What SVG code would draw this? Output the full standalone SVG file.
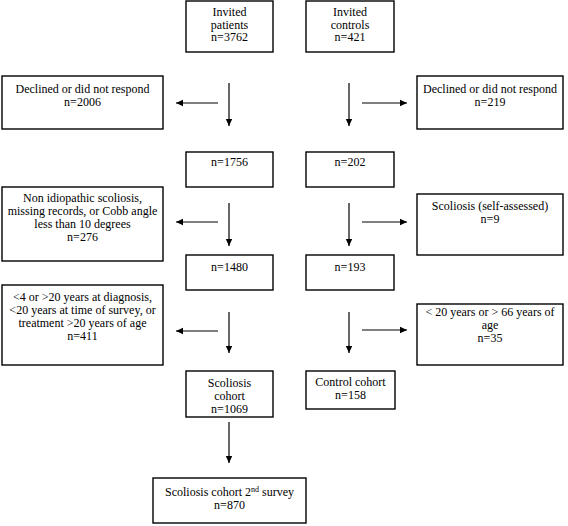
<svg xmlns="http://www.w3.org/2000/svg" width="568" height="526" viewBox="0 0 568 526">
<defs>
<marker id="ah" markerUnits="userSpaceOnUse" markerWidth="8" markerHeight="8" viewBox="0 0 8 8" refX="7" refY="4" orient="auto">
<path d="M0,0.8 L7,4 L0,7.2 Z" fill="#000"/>
</marker>
<style>
rect{fill:#fff;stroke:#000;stroke-width:1.4}
text{font-family:"Liberation Serif","Times New Roman",serif;font-size:12px;fill:#000;text-anchor:middle}
.c line{stroke:#000;stroke-width:1.2;marker-end:url(#ah)}
</style>
</defs>
<rect x="0" y="0" width="568" height="526" style="fill:#fff;stroke:none"/>
<g id="invited-patients"><rect x="186" y="1" width="87" height="51"/><text x="229.5" y="16">Invited</text><text x="229.5" y="28.5">patients</text><text x="229.5" y="41">n=3762</text></g>
<g id="invited-controls"><rect x="306" y="1" width="88" height="51"/><text x="350" y="16">Invited</text><text x="350" y="28.5">controls</text><text x="350" y="41">n=421</text></g>
<g id="declined-patients"><rect x="2" y="76" width="161" height="53"/><text x="82.5" y="93">Declined or did not respond</text><text x="82.5" y="106">n=2006</text></g>
<g id="declined-controls"><rect x="417" y="76" width="146" height="53"/><text x="490" y="93">Declined or did not respond</text><text x="490" y="106">n=219</text></g>
<g id="patients-1756"><rect x="186" y="152" width="87" height="35"/><text x="229.5" y="166">n=1756</text></g>
<g id="controls-202"><rect x="306" y="152" width="88" height="35"/><text x="350" y="166">n=202</text></g>
<g id="excluded-nonidiopathic"><rect x="2" y="187" width="161" height="74"/><text x="82.5" y="202">Non idiopathic scoliosis,</text><text x="82.5" y="215">missing records, or Cobb angle</text><text x="82.5" y="228">less than 10 degrees</text><text x="82.5" y="241">n=276</text></g>
<g id="excluded-selfassessed"><rect x="417" y="194" width="146" height="61"/><text x="490" y="210">Scoliosis (self-assessed)</text><text x="490" y="223">n=9</text></g>
<g id="patients-1480"><rect x="186" y="255" width="87" height="35"/><text x="229.5" y="271">n=1480</text></g>
<g id="controls-193"><rect x="306" y="255" width="88" height="35"/><text x="350" y="271">n=193</text></g>
<g id="excluded-age-patients"><rect x="2" y="285" width="161" height="80"/><text x="82.5" y="301">&lt;4 or &gt;20 years at diagnosis,</text><text x="82.5" y="314">&lt;20 years at time of survey, or</text><text x="82.5" y="327">treatment &gt;20 years of age</text><text x="82.5" y="340">n=411</text></g>
<g id="excluded-age-controls"><rect x="417" y="304" width="146" height="61"/><text x="490" y="316">&lt; 20 years or &gt; 66 years of</text><text x="490" y="329">age</text><text x="490" y="342">n=35</text></g>
<g id="scoliosis-cohort"><rect x="186" y="371" width="87" height="46"/><text x="229.5" y="387">Scoliosis</text><text x="229.5" y="400">cohort</text><text x="229.5" y="413">n=1069</text></g>
<g id="control-cohort"><rect x="306" y="371" width="89" height="38"/><text x="350.5" y="386">Control cohort</text><text x="350.5" y="399">n=158</text></g>
<g id="second-survey"><rect x="153" y="478" width="153" height="45"/><text x="229.5" y="496">Scoliosis cohort 2<tspan font-size="8" dy="-4">nd</tspan><tspan dy="4"> survey</tspan></text><text x="229.5" y="509">n=870</text></g>
<g id="connectors" class="c">
<line x1="229" y1="83" x2="229" y2="126"/>
<line x1="229" y1="203" x2="229" y2="246"/>
<line x1="229" y1="312" x2="229" y2="353"/>
<line x1="229" y1="422" x2="229" y2="463"/>
<line x1="349" y1="83" x2="349" y2="126"/>
<line x1="349" y1="203" x2="349" y2="246"/>
<line x1="349" y1="312" x2="349" y2="353"/>
<line x1="218" y1="103" x2="176" y2="103"/>
<line x1="218" y1="222" x2="176" y2="222"/>
<line x1="218" y1="331" x2="176" y2="331"/>
<line x1="362" y1="103" x2="407" y2="103"/>
<line x1="362" y1="222" x2="407" y2="222"/>
<line x1="362" y1="330" x2="407" y2="330"/>
</g>
</svg>
